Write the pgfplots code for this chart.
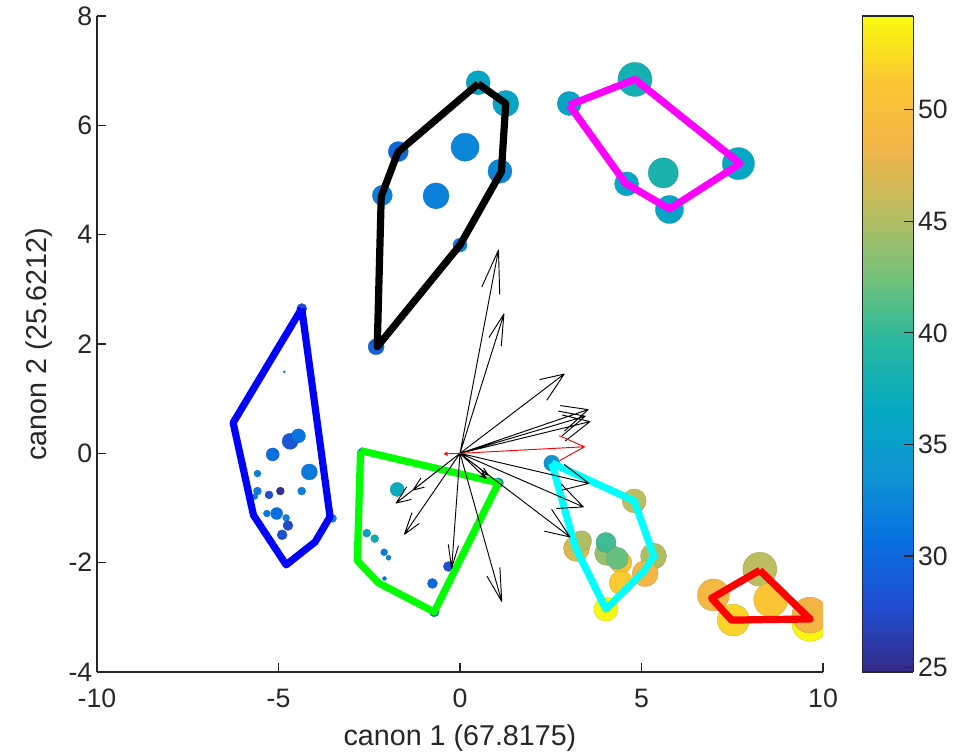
\documentclass[border=0pt]{standalone}
\usepackage{fontspec}
\setmainfont{Liberation Sans}
\usepackage{pgfplots}
\usepackage{pgfplotstable}
\pgfplotsset{compat=1.18}
\definecolor{axgray}{rgb}{0.15,0.15,0.15}
\definecolor{mblue}{rgb}{0,0,1}
\definecolor{mgreen}{rgb}{0,1,0}
\definecolor{mcyan}{rgb}{0,1,1}
\definecolor{mmagenta}{rgb}{1,0,1}
\definecolor{mred}{rgb}{1,0,0}
\pgfplotsset{colormap={parula}{
rgb=(0.208,0.166,0.529)
rgb=(0.130,0.300,0.820)
rgb=(0.030,0.440,0.880)
rgb=(0.060,0.580,0.830)
rgb=(0.020,0.660,0.760)
rgb=(0.150,0.720,0.630)
rgb=(0.450,0.760,0.480)
rgb=(0.730,0.740,0.380)
rgb=(0.950,0.710,0.280)
rgb=(0.980,0.780,0.200)
rgb=(0.976,0.983,0.054)}}

\pgfplotstableread{
x y c s
-4.36 2.65 28 3.75
-4.84 1.49 33 0.9
-6.25 0.56 31 1.5
-5.69 -1.13 31 1.5
-4.79 -2.04 31 1.5
-3.99 -1.62 31 1.5
-3.51 -1.19 32 3
-4.68 0.22 28.5 6
-4.45 0.32 31 5.25
-5.16 -0.02 30.5 4.9
-4.15 -0.34 31.5 6
-5.58 -0.37 32 2.6
-5.58 -0.69 32 3
-5.65 -0.79 32 2.2
-5.26 -0.76 28 3
-4.95 -0.69 25.5 3
-4.36 -0.69 32 3
-5.32 -1.10 31.5 2.6
-5.05 -1.10 30.5 4.5
-4.79 -1.18 32 2.6
-4.74 -1.32 27.5 3.75
-4.90 -1.49 28 3.75
-1.73 -0.66 37 5.25
-2.57 -1.46 35.5 3
-2.35 -1.56 37.5 3
-2.09 -1.81 31.5 2.6
-1.97 -1.91 32.5 1.9
-2.83 -1.96 31 1.5
-2.08 -2.29 31 1.5
-2.74 0.05 31 1.5
-0.76 -2.38 30 3.75
-0.32 -2.07 28 3.75
-0.71 -2.90 30.5 3.75
1.06 -0.54 32 3.75
2.53 -0.18 34 6
4.80 -0.87 45.5 9
3.21 -1.74 47 9.75
3.35 -1.60 45 7.5
4.43 -2.00 50.5 8.25
4.04 -1.83 44 9
4.02 -1.63 40.5 7.5
4.33 -1.92 42 8.25
5.33 -1.88 45 9.75
5.10 -2.20 48.5 9.75
4.44 -2.37 51.5 9
4.02 -2.85 54 9
8.26 -2.12 45.5 12.75
6.98 -2.59 49 12
7.53 -3.05 52 12
8.56 -2.68 51 12.75
9.64 -3.11 54 13.5
9.64 -2.96 48.5 13.5
0.50 6.78 36 9
1.26 6.40 36 9.75
-1.70 5.52 30 7.5
0.14 5.60 32.5 10.5
1.10 5.16 32.5 9
-2.14 4.72 32 7.5
-0.66 4.71 32 9.75
0.00 3.81 32 5.25
-2.31 1.95 29.5 6
3.01 6.40 36 9
4.82 6.84 38 12.75
7.67 5.30 36.5 12
5.60 5.13 38.5 11.25
4.59 4.93 36 9
5.77 4.46 36 10.5
}\pts

\begin{document}
\begin{tikzpicture}
\useasboundingbox (-72.75pt,-59.25pt) rectangle (651.75pt,504pt);
\begin{axis}[
 scale only axis, width=544.5pt, height=492pt,
 at={(0,0)}, anchor=south west,
 xmin=-10, xmax=10, ymin=-4, ymax=8,
 clip marker paths=true,
 xtick={-10,-5,0,5,10}, xticklabels={-10,-5,0,5,10},
 ytick={-4,-2,0,2,4,6,8}, yticklabels={-4,-2,0,2,4,6,8},
 axis x line*=bottom, axis y line*=left,
 axis line style={-, axgray, line width=0.9pt},
 tick style={axgray, line width=0.9pt},
 tick align=inside, major tick length=7pt,
 ticklabel style={font=\fontsize{20}{24}\selectfont, text=axgray},
 xticklabel style={yshift=-9pt},
 label style={font=\fontsize{21.5}{25}\selectfont, text=axgray},
 xlabel={canon 1 (67.8175)}, ylabel={canon 2 (25.6212)},
 xlabel style={yshift=-6pt},
 ylabel style={yshift=5pt},
 colormap name=parula,
 point meta min=24.8, point meta max=54.2,
 colorbar sampled,
 colorbar style={at={(parent axis.north east)}, anchor=north west,
   xshift=21pt, scale only axis, width=38.25pt, height=492pt,
   samples=120,
   xmin=0, xmax=1, enlargelimits=false,
   ytick={25,30,35,40,45,50}, yticklabels={25,30,35,40,45,50},
   ytick pos=right, yticklabel pos=right, tick align=inside,
   major tick length=7pt,
   axis line style={axgray, line width=0.9pt},
   tick style={axgray, line width=0.9pt},
   yticklabel style={font=\fontsize{20}{24}\selectfont, text=axgray}},
]
\addplot[scatter, only marks, mark=*, point meta=explicit,
  visualization depends on={\thisrow{s} \as \msize},
  scatter/@pre marker code/.append style={/tikz/mark size=\msize},
  mark options={line width=0.2pt}]
  table[x=x, y=y, meta=c] {\pts};

\addplot[mblue, line width=5.4pt, line join=round] coordinates {(-4.36,2.65) (-6.25,0.56) (-5.69,-1.13) (-4.79,-2.04) (-3.99,-1.62) (-3.58,-1.16) (-4.36,2.65)};
\addplot[black, line width=5.4pt, line join=round] coordinates {(0.50,6.76) (1.26,6.40) (1.14,5.15) (0,3.81) (-2.28,1.95) (-2.17,4.70) (-1.71,5.51) (0.50,6.76)};
\addplot[mmagenta, line width=5.4pt, line join=round] coordinates {(3.01,6.37) (4.82,6.84) (7.72,5.30) (5.77,4.47) (4.56,4.94) (3.01,6.37)};
\addplot[mgreen, line width=5.4pt, line join=round] coordinates {(-2.74,0.05) (1.06,-0.54) (-0.71,-2.90) (-2.25,-2.37) (-2.83,-1.96) (-2.74,0.05)};
\addplot[mcyan, line width=5.4pt, line join=round] coordinates {(2.53,-0.18) (4.80,-0.87) (5.34,-1.88) (5.05,-2.17) (4.02,-2.85) (3.17,-1.71) (2.53,-0.18)};
\addplot[mred, line width=5.4pt, line join=round] coordinates {(8.26,-2.14) (6.93,-2.65) (7.48,-3.05) (9.64,-3.03) (8.26,-2.14)};

\addplot[black, line width=0.7pt, line join=round, unbounded coords=jump] coordinates {
(0,0) (1.06,3.72) (0.6025,3.046) (1.06,3.72) (1.0935,2.906) (nan,nan)
(0,0) (1.21,2.55) (0.7997,2.1199) (1.21,2.55) (1.1363,1.9601) (nan,nan)
(0,0) (2.87,1.45) (2.2003,1.3494) (2.87,1.45) (2.3917,0.9706) (nan,nan)
(0,0) (3.53,0.80) (2.7712,0.873) (3.53,0.80) (2.8768,0.407) (nan,nan)
(0,0) (3.45,0.68) (2.7151,0.7717) (3.45,0.68) (2.8049,0.3163) (nan,nan)
(0,0) (3.58,0.58) (2.8257,0.7003) (3.58,0.58) (2.9023,0.2277) (nan,nan)
(0,0) (3.55,-0.55) (2.8763,-0.2057) (3.55,-0.55) (2.8037,-0.6743) (nan,nan)
(0,0) (3.40,-0.98) (2.7847,-0.5596) (3.40,-0.98) (2.6553,-1.0084) (nan,nan)
(0,0) (3.03,-1.53) (2.525,-1.024) (3.03,-1.53) (2.323,-1.424) (nan,nan)
(0,0) (1.15,-2.71) (1.0989,-2.0921) (1.15,-2.71) (0.7411,-2.2439) (nan,nan)
(0,0) (-0.23,-2.10) (-0.0454,-1.6952) (-0.23,-2.10) (-0.3226,-1.6648) (nan,nan)
(0,0) (0.78,-0.40) (0.6504,-0.2685) (0.78,-0.40) (0.5976,-0.3715) (nan,nan)
(0,0) (0.72,-0.46) (0.6064,-0.3205) (0.72,-0.46) (0.5456,-0.4155) (nan,nan)
(0,0) (-1.76,-0.91) (-1.348,-0.8442) (-1.76,-0.91) (-1.468,-0.6118) (nan,nan)
(0,0) (-1.29,-0.67) (-0.9878,-0.6211) (-1.29,-0.67) (-1.0762,-0.4509) (nan,nan)
(0,0) (-1.53,-1.48) (-1.1263,-1.285) (-1.53,-1.48) (-1.3217,-1.083)
};
\addplot[mred, line width=0.7pt, line join=round, unbounded coords=jump] coordinates {
(0,0) (3.43,0.12) (2.7361,0.3224) (3.43,0.12) (2.7519,-0.1304) (nan,nan)
(0,0) (-0.43,-0.01) (-0.3433,-0.0364) (-0.43,-0.01) (-0.3447,0.0204)
};
\end{axis}
\end{tikzpicture}
\end{document}
